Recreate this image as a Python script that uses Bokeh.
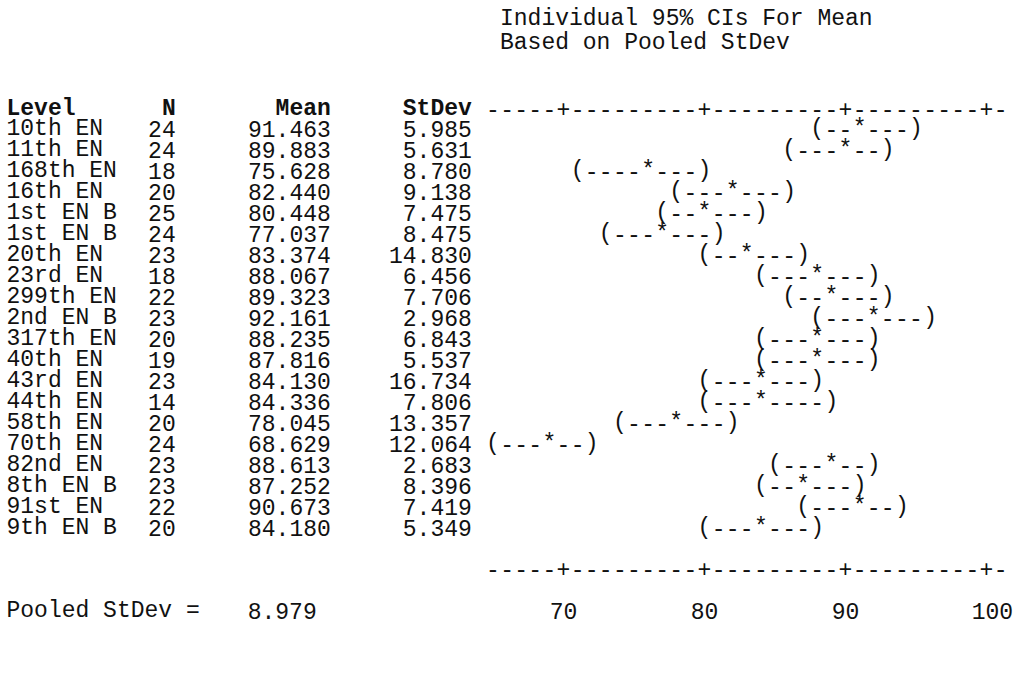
from bokeh.plotting import figure
from bokeh.models import Range1d, ColumnDataSource
from bokeh.core.properties import value
from bokeh.embed import file_html
from bokeh.resources import INLINE

# ---------------- data ----------------
levels = ["10th EN", "11th EN", "168th EN", "16th EN", "1st EN B", "1st EN B",
          "20th EN", "23rd EN", "299th EN", "2nd EN B", "317th EN", "40th EN",
          "43rd EN", "44th EN", "58th EN", "70th EN", "82nd EN", "8th EN B",
          "91st EN", "9th EN B"]
n_obs = [24, 24, 18, 20, 25, 24, 23, 18, 22, 23, 20, 19, 23, 14, 20, 24, 23, 23, 22, 20]
means = [91.463, 89.883, 75.628, 82.440, 80.448, 77.037, 83.374, 88.067, 89.323, 92.161,
         88.235, 87.816, 84.130, 84.336, 78.045, 68.629, 88.613, 87.252, 90.673, 84.180]
stdevs = [5.985, 5.631, 8.780, 9.138, 7.475, 8.475, 14.830, 6.456, 7.706, 2.968,
          6.843, 5.537, 16.734, 7.806, 13.357, 12.064, 2.683, 8.396, 7.419, 5.349]
pooled_sd = 8.979
t_crit = 1.966           # t(0.975, df = 409)
axis_ticks = [70, 80, 90, 100]
axis_start, axis_end = 65, 101
title_lines = ["Individual 95% CIs For Mean", "Based on Pooled StDev"]
headers = ["Level", "N", "Mean", "StDev"]

# ---------------- layout (one x unit = one character column) ----------------
CH = 14.1      # px per character
ROW = 20.95    # px per line
W, H = 1019, 661
FONT = value("Liberation Mono")
FS = "23px"

x0 = 30.5 - 6 / CH
y_top = -108 / ROW
p = figure(width=W, height=H, output_backend="svg", toolbar_location=None,
           x_range=Range1d(x0, x0 + W / CH),
           y_range=Range1d(y_top + H / ROW, y_top),
           min_border=0)
p.axis.visible = False
p.grid.visible = False
p.outline_line_color = None
p.background_fill_color = "white"
p.border_fill_color = "white"

def col_left(c):
    return c + 30.5

def col_right(c):
    return c + 31.5

rows = list(range(1, len(levels) + 1))

def txt(src, align, bold=False, x_off=0):
    p.text(x="x", y="y", text="t", source=ColumnDataSource(src),
           text_font=FONT, text_font_size=FS, text_align=align,
           text_baseline="middle", text_color="#111111", x_offset=x_off,
           text_font_style="bold" if bold else "normal")

# title lines
txt(dict(x=[col_left(35)] * 2, y=[-4.25, -3.15], t=title_lines), "left")

# header
txt(dict(x=[col_left(0)], y=[0], t=[headers[0]]), "left", bold=True)
txt(dict(x=[col_right(11), col_right(22), col_right(32)], y=[0, 0, 0],
         t=headers[1:]), "right", bold=True)

# table body
txt(dict(x=[col_left(0)] * len(levels), y=rows, t=levels), "left")
txt(dict(x=[col_right(11)] * len(levels), y=rows, t=[str(n) for n in n_obs]), "right")
txt(dict(x=[col_right(22)] * len(levels), y=rows, t=["%.3f" % m for m in means]), "right")
txt(dict(x=[col_right(32)] * len(levels), y=rows, t=["%.3f" % s for s in stdevs]), "right")

# pooled line
last = len(levels)
txt(dict(x=[col_left(0)], y=[last + 4], t=["Pooled StDev ="]), "left")
txt(dict(x=[col_right(21)], y=[last + 4], t=["%.3f" % pooled_sd]), "right")

# ASCII axes (top, under the header; bottom, after the table)
ax_x, ax_y, ax_t = [], [], []
for yy in (0, last + 2):
    for v in range(axis_start, axis_end + 1):
        ax_x.append(v)
        ax_y.append(yy)
        ax_t.append("+" if v in axis_ticks else "-")
txt(dict(x=ax_x, y=ax_y, t=ax_t), "center")

# tick labels
txt(dict(x=axis_ticks[:-1], y=[last + 4] * (len(axis_ticks) - 1),
         t=[str(t) for t in axis_ticks[:-1]]), "center")
txt(dict(x=axis_ticks[-1:], y=[last + 4], t=[str(axis_ticks[-1])]), "center", x_off=6)

# confidence intervals drawn character by character on the value scale
ci_x, ci_y, ci_t = [], [], []
for r, m, n in zip(rows, means, n_obs):
    h = t_crit * pooled_sd / n ** 0.5
    lo, mid, hi = round(m - h), round(m), round(m + h)
    for v in range(lo, hi + 1):
        ci_x.append(v)
        ci_y.append(r)
        ci_t.append("(" if v == lo else ")" if v == hi else "*" if v == mid else "-")
txt(dict(x=ci_x, y=ci_y, t=ci_t), "center")

open("out.html", "w").write(file_html(p, INLINE))
